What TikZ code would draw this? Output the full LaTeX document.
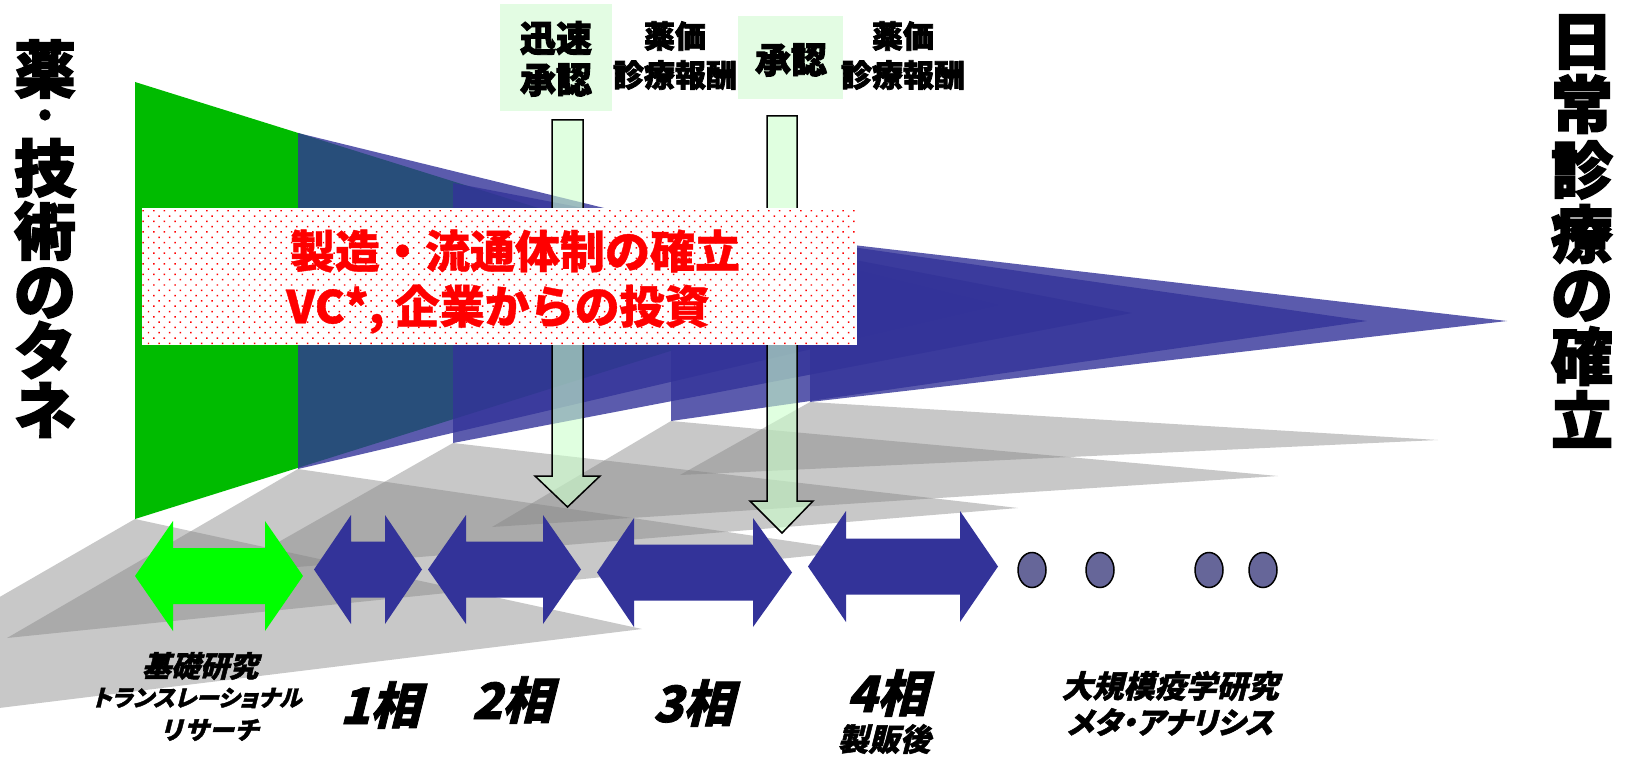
\documentclass[tikz,border=0pt]{standalone}
\usepackage{fontspec}
\newfontfamily\jpH{Noto Sans CJK JP}[FakeBold=2.5]
\newfontfamily\jpDot{Noto Sans CJK JP}[FakeBold=5]
\newfontfamily\jpI{Noto Sans CJK JP}[FakeBold=1.6, FakeSlant=0.25]
\newfontfamily\jpIp{Noto Sans CJK JP}[FakeBold=1.6, FakeSlant=0.25, RawFeature=+palt]
\newfontfamily\jpR{Noto Sans CJK JP}[FakeBold=0.8]
\usetikzlibrary{patterns.meta,shapes.geometric}
\definecolor{gG}{HTML}{00BB00}
\definecolor{bB}{HTML}{333399}
\definecolor{shd}{RGB}{134,134,134}
\definecolor{lgF}{HTML}{CCFFCC}
\definecolor{lbx}{HTML}{E3FCE3}
\definecolor{brt}{HTML}{00FF00}
\definecolor{ellc}{HTML}{666699}
\newcommand{\DArrow}[8]{%
  \fill[#1] (#2,#6) -- (#3,#6-#7) -- (#3,#6-#8) -- (#4,#6-#8) -- (#4,#6-#7) -- (#5,#6)
   -- (#4,#6+#7) -- (#4,#6+#8) -- (#3,#6+#8) -- (#3,#6+#7) -- cycle;}
\tikzset{
  shadowtri/.style={fill=shd, fill opacity=0.45},
  bluetri/.style={fill=bB, fill opacity=0.8},
  vertarrow/.style={fill=lgF, fill opacity=0.6, draw=black, draw opacity=1, line width=1.5pt, line join=miter},
  dotnode/.style={ellipse, draw=black, line width=1.5pt, fill=ellc, minimum width=28pt, minimum height=35pt, inner sep=0pt},
  bigchar/.style={font=\jpH\bfseries\fontsize{62}{62}\selectfont, inner sep=0pt},
  toplbl/.style={font=\jpH\bfseries\fontsize{31}{31}\selectfont, inner sep=0pt},
  apprlbl/.style={font=\jpH\bfseries\fontsize{36}{36}\selectfont, inner sep=0pt},
  lbox/.style={fill=lbx, inner sep=0pt, anchor=north west},
  redtxt/.style={font=\jpR\bfseries\fontsize{45}{45}\selectfont, text=red, inner sep=0pt},
  phaselbl/.style={font=\jpI\bfseries\fontsize{50}{50}\selectfont, inner sep=0pt},
}
\begin{document}
\begin{tikzpicture}[x=1pt,y=-1pt]
\useasboundingbox (0,0) rectangle (1625,757);
\fill[white] (0,0) rectangle (1625,757);
\begin{scope}
\clip (0,0) rectangle (1625,757);
% shadows
\fill[shadowtri] (135,519) -- (-245,738) -- (642,629) -- cycle;
\fill[shadowtri] (298,469) -- (7,638) -- (857,551) -- cycle;
\fill[shadowtri] (453,443) -- (224,573) -- (1018,508) -- cycle;
\fill[shadowtri] (671,421) -- (492,527) -- (1278,476) -- cycle;
\fill[shadowtri] (810,402) -- (680,475) -- (1438,440) -- cycle;
\end{scope}
% green wedge and blue wedges
\fill[gG] (135,82) -- (135,519) -- (833,300) -- cycle;
\fill[bluetri] (298,133) -- (298,469) -- (1000,305) -- cycle;
\fill[bluetri] (453,183) -- (453,443) -- (1132,313) -- cycle;
\fill[bluetri] (671,221) -- (671,421) -- (1367,321) -- cycle;
\fill[bluetri] (810,240) -- (810,402) -- (1507,321) -- cycle;
% phase double arrows
\DArrow{brt}{135}{173}{265}{303}{576}{55}{28}
\DArrow{bB}{314}{351}{385}{422}{569.5}{54.5}{28}
\DArrow{bB}{428}{466}{543}{581}{569.5}{54.5}{28}
\DArrow{bB}{597}{634}{753}{792}{572.5}{54.5}{28}
\DArrow{bB}{808}{846}{960}{998}{566.5}{55.5}{28}
% dots
\node[dotnode] (e1) at (1032,570) {};
\node[dotnode] (e2) at (1100,570) {};
\node[dotnode] (e3) at (1209,570) {};
\node[dotnode] (e4) at (1263,570) {};
% vertical approval arrows
\draw[vertarrow] (552,120) -- (583,120) -- (583,476) -- (600,476) -- (567.5,507) -- (535,476) -- (552,476) -- cycle;
\draw[vertarrow] (767,116) -- (797,116) -- (797,501) -- (813,501) -- (782,533) -- (750,501) -- (767,501) -- cycle;
% red dotted box
\node[anchor=north west, minimum width=715pt, minimum height=137pt, inner sep=0pt,
      preaction={fill=white}, pattern={Dots[angle=45,distance=7.5pt,radius=1.05pt]}, pattern color=red] (rbox) at (142,208) {};
\node[redtxt] (r1) at (515,251) {製造・流通体制の確立};
\node[redtxt] (r2) at (498,309) {VC*, 企業からの投資};
% top label boxes
\node[lbox, minimum width=112pt, minimum height=107pt] (b1) at (500,4) {};
\node[lbox, minimum width=105pt, minimum height=83pt] (b2) at (738,16) {};
\node[apprlbl] (a1) at (556,38) {迅速};
\node[apprlbl] (a2) at (556,80) {承認};
\node[apprlbl] (a3) at (791,60) {承認};
\node[toplbl] (p1) at (675,36) {薬価};
\node[toplbl] (p2) at (675,75) {診療報酬};
\node[toplbl] (p3) at (903,36) {薬価};
\node[toplbl] (p4) at (903,75) {診療報酬};
% side titles
\foreach \c/\y/\n in {薬/69/1, 技/168/3, 術/231/4, の/293/5, タ/350/6, ネ/410/7}
  \node[bigchar] (L\n) at (45,\y) {\c};
\node[font=\jpDot\bfseries\fontsize{34}{34}\selectfont, inner sep=0pt] (L2) at (45,119) {・};
\foreach \c/\y/\n in {日/42/1, 常/104/2, 診/170/3, 療/234/4, の/296/5, 確/356/6, 立/419/7}
  \node[bigchar] (R\n) at (1582,\y) {\c};
% bottom labels
\node[font=\jpI\bfseries\fontsize{29}{29}\selectfont, inner sep=0pt] (k1) at (200,666) {基礎研究};
\node[font=\jpIp\bfseries\fontsize{23}{23}\selectfont, inner sep=0pt] (k2) at (197,698) {トランスレーショナル};
\node[font=\jpI\bfseries\fontsize{25}{25}\selectfont, inner sep=0pt] (k3) at (209,730) {リサーチ};
\node[phaselbl] (f1) at (380,705) {1相};
\node[phaselbl] (f2) at (512,700) {2相};
\node[phaselbl] (f3) at (693,703) {3相};
\node[phaselbl] (f4) at (887,693) {4相};
\node[font=\jpI\bfseries\fontsize{31}{31}\selectfont, inner sep=0pt] (f5) at (884,739) {製販後};
\node[font=\jpI\bfseries\fontsize{31}{31}\selectfont, inner sep=0pt] (m1) at (1170,686) {大規模疫学研究};
\node[font=\jpIp\bfseries\fontsize{30}{30}\selectfont, inner sep=0pt] (m2) at (1170,722) {メタ・アナリシス};
\end{tikzpicture}
\end{document}
